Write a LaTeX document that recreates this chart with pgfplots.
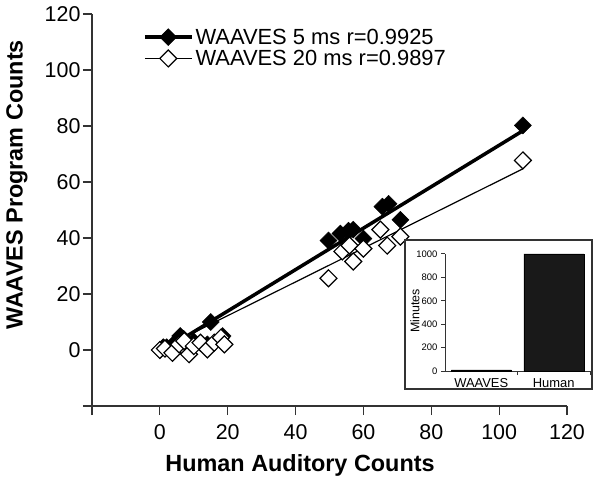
\documentclass[border=0pt]{standalone}
\usepackage{pgfplots}
\pgfplotsset{compat=1.18}
\usepackage{fontspec}
\setmainfont{Liberation Sans}
\begin{document}
\begin{tikzpicture}
\begin{axis}[
  scale only axis, width=475bp, height=392bp,
  xmin=-20, xmax=120, ymin=-20, ymax=120,
  axis lines=left,
  axis line style={-, line width=1.2bp, black!80},
  xtick={-20,0,20,40,60,80,100,120},
  xticklabels={,0,20,40,60,80,100,120},
  ytick={-20,0,20,40,60,80,100,120},
  yticklabels={,0,20,40,60,80,100,120},
  tick align=outside, major tick length=9bp,
  tick style={line width=1.2bp, black!80},
  /pgf/number format/assume math mode=true,
  ticklabel style={font=\fontsize{21.5}{22}\selectfont},
  xticklabel style={yshift=-6bp},
  yticklabel style={xshift=1bp},
  xlabel={Human Auditory Counts},
  ylabel={WAAVES Program Counts},
  label style={font=\fontsize{23.5}{24}\selectfont\bfseries},
  xlabel style={at={(axis description cs:0.438,-0.1505)}, anchor=center},
  ylabel style={at={(axis description cs:-0.158,0.564)}, anchor=center},
  clip=false,
  legend style={draw=none, fill=none, at={(axis description cs:0.107,0.968)}, anchor=north west,
    font=\fontsize{22}{24}\selectfont, inner sep=0pt, row sep=0.5bp},
  legend cell align=left,
  legend image code/.code={\draw[mark repeat=2,mark phase=2,#1] plot coordinates {(0bp,0bp) (23.5bp,0bp) (47bp,0bp)};},
]
\addlegendimage{line width=3.5bp, black, mark=square*, mark size=6bp, mark options={rotate=45, solid, fill=black, line width=0.5bp}}
\addlegendentry{WAAVES 5 ms r=0.9925}
\addlegendimage{line width=1.2bp, black, mark=square*, mark size=6bp, mark options={rotate=45, solid, fill=white, line width=1.2bp}}
\addlegendentry{WAAVES 20 ms r=0.9897}
% regression lines
\addplot[forget plot, line width=3.5bp, black] coordinates {(0,-0.9) (107,78.3)};
\addplot[forget plot, line width=1.2bp, black] coordinates {(0,0.2) (107,64.7)};
% 5 ms
\addplot[forget plot, only marks, mark=square*, mark size=6bp, mark options={rotate=45, fill=black, draw=black, line width=0.5bp}] coordinates {
(0,0) (1,1) (2,1) (4,2) (6,5) (7,4) (10,3) (14,2) (15,10) (18.5,5)
(49.7,39.1) (53.2,41.6) (55.6,42.6) (57,43) (60,39.8) (65.6,51.2) (67.4,52.2) (70.9,46.5) (107,80.2)
};
% 20 ms
\addplot[forget plot, only marks, mark=square*, mark size=6bp, mark options={rotate=45, fill=white, draw=black, line width=1.2bp}] coordinates {
(0,0) (1.5,0.5) (3.7,-1) (5.7,2) (7.2,3.2) (8.6,-1.5) (10,1.4) (12,2.6) (14,0.2) (16,2.6) (18,4.4) (19,2)
(49.7,25.6) (53.8,35.2) (55.9,37.3) (57,31.6) (60,36.2) (65,43) (67,37.3) (70.9,40.5) (107,67.7)
};
\end{axis}
\draw[line width=1.2bp, black!80, fill=white] (313bp,17bp) rectangle (500bp,166bp);
\begin{axis}[
  at={(353bp,35bp)}, anchor=south west,
  scale only axis, width=145bp, height=117bp,
  xmin=0, xmax=2, ymin=0, ymax=1000,
  axis lines=left,
  axis line style={-, line width=1bp, black!80},
  xtick={1,2}, xticklabels={WAAVES,Human},
  xticklabel style={xshift=-36.25bp, font=\fontsize{13}{13}\selectfont},
  ytick={0,200,400,600,800,1000},
  yticklabel style={font=\fontsize{9.5}{10}\selectfont},
  /pgf/number format/assume math mode=true,
  /pgf/number format/1000 sep={},
  tick align=outside, major tick length=4bp,
  tick style={line width=1bp, black!80},
  ylabel={Minutes},
  ylabel style={at={(axis description cs:-0.207,0.513)}, anchor=center, font=\fontsize{12.5}{13}\selectfont},
  ybar, bar width=60bp,
  clip=false,
]
\addplot[fill=black!90, draw=black] coordinates {(0.5,10) (1.5,1000)};
\end{axis}
\pgfresetboundingbox
\path[use as bounding box] (-92bp,-79bp) rectangle (508bp,406bp);
\end{tikzpicture}
\end{document}
